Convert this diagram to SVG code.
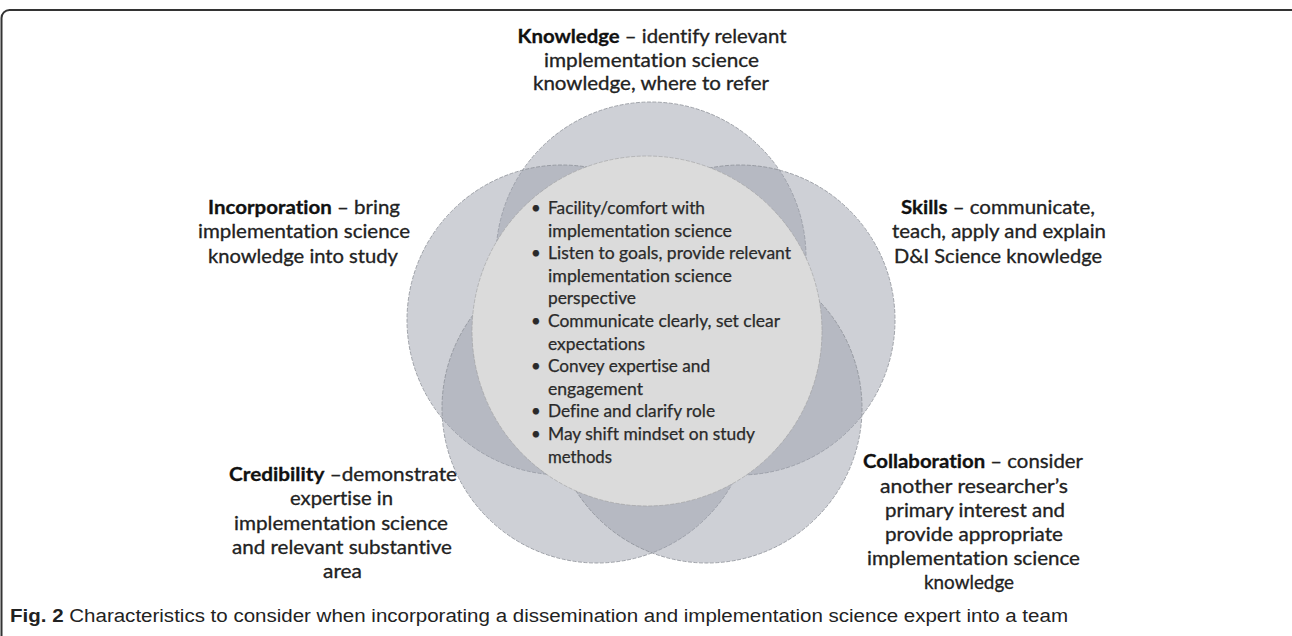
<svg xmlns="http://www.w3.org/2000/svg" width="1292" height="636" viewBox="0 0 1292 636">
<style>
.petal{fill:#9ea2ad;fill-opacity:0.5;stroke:#8c8f97;stroke-width:0.8;stroke-dasharray:4 1.5}
.core{fill:#dbdbdb;stroke:#a0a0a0;stroke-width:0.6;stroke-dasharray:4 1.5}
text{font-variant-ligatures:none}
.lbl{font-family:Lato,"Open Sans",sans-serif;font-size:18.5px;fill:#222;stroke:#222;stroke-width:0.3;text-anchor:middle}
.lbl .b{font-weight:bold;fill:#111;stroke:#111}
.bl{font-family:Lato,"Open Sans",sans-serif;font-size:16.8px;fill:#2a2a2a;stroke:#2a2a2a;stroke-width:0.25}
.cap{font-family:"Liberation Sans",Arial,sans-serif;font-size:18px;fill:#222}
</style>
<rect x="1.5" y="10" width="1300" height="640" rx="8" fill="#fff" stroke="#333" stroke-width="2"/>
<g id="connectors"></g>
<g id="petals">
<circle id="knowledge-petal" class="petal" cx="651" cy="257" r="155"/>
<circle id="incorporation-petal" class="petal" cx="562" cy="320" r="155"/>
<circle id="skills-petal" class="petal" cx="740" cy="320" r="155"/>
<circle id="credibility-petal" class="petal" cx="597" cy="408" r="155"/>
<circle id="collaboration-petal" class="petal" cx="707" cy="408" r="155"/>
</g>
<g id="core">
<circle class="core" cx="647" cy="331" r="175"/>
<g class="bl">
<text x="531" y="214">•</text>
<text x="548" y="214" textLength="157" lengthAdjust="spacingAndGlyphs">Facility/comfort with</text>
<text x="548" y="236.6" textLength="184" lengthAdjust="spacingAndGlyphs">implementation  science</text>
<text x="531" y="259.2">•</text>
<text x="548" y="259.2" textLength="243" lengthAdjust="spacingAndGlyphs">Listen to goals, provide relevant</text>
<text x="548" y="281.8" textLength="184" lengthAdjust="spacingAndGlyphs">implementation  science</text>
<text x="548" y="304.4" textLength="88" lengthAdjust="spacingAndGlyphs">perspective</text>
<text x="531" y="327">•</text>
<text x="548" y="327" textLength="232" lengthAdjust="spacingAndGlyphs">Communicate  clearly, set clear</text>
<text x="548" y="349.6" textLength="97" lengthAdjust="spacingAndGlyphs">expectations</text>
<text x="531" y="372.2">•</text>
<text x="548" y="372.2" textLength="162" lengthAdjust="spacingAndGlyphs">Convey expertise and</text>
<text x="548" y="394.8" textLength="95" lengthAdjust="spacingAndGlyphs">engagement</text>
<text x="531" y="417.4">•</text>
<text x="548" y="417.4" textLength="167" lengthAdjust="spacingAndGlyphs">Define and clarify role</text>
<text x="531" y="440">•</text>
<text x="548" y="440" textLength="207" lengthAdjust="spacingAndGlyphs">May shift mindset on  study</text>
<text x="548" y="462.6" textLength="64" lengthAdjust="spacingAndGlyphs">methods</text>
</g>
</g>
<g id="knowledge" class="lbl">
<text x="652" y="43" textLength="269" lengthAdjust="spacingAndGlyphs"><tspan class="b">Knowledge</tspan> – identify relevant</text>
<text x="651.5" y="66.5" textLength="215" lengthAdjust="spacingAndGlyphs">implementation science</text>
<text x="651" y="90" textLength="236" lengthAdjust="spacingAndGlyphs">knowledge, where to refer</text>
</g>
<g id="incorporation" class="lbl">
<text x="304" y="214" textLength="192" lengthAdjust="spacingAndGlyphs"><tspan class="b">Incorporation</tspan> – bring</text>
<text x="304" y="238" textLength="212" lengthAdjust="spacingAndGlyphs">implementation science</text>
<text x="303" y="262.5" textLength="190" lengthAdjust="spacingAndGlyphs">knowledge into study</text>
</g>
<g id="skills" class="lbl">
<text x="998" y="214" textLength="194" lengthAdjust="spacingAndGlyphs"><tspan class="b">Skills</tspan> – communicate,</text>
<text x="999" y="238" textLength="214" lengthAdjust="spacingAndGlyphs">teach, apply and explain</text>
<text x="998" y="262.5" textLength="208" lengthAdjust="spacingAndGlyphs">D&amp;I Science knowledge</text>
</g>
<g id="credibility" class="lbl">
<text x="343" y="481" textLength="228" lengthAdjust="spacingAndGlyphs"><tspan class="b">Credibility</tspan> –demonstrate</text>
<text x="341.5" y="505" textLength="103" lengthAdjust="spacingAndGlyphs">expertise in</text>
<text x="341" y="530" textLength="214" lengthAdjust="spacingAndGlyphs">implementation science</text>
<text x="342" y="554" textLength="220" lengthAdjust="spacingAndGlyphs">and relevant substantive</text>
<text x="342.5" y="578" textLength="39" lengthAdjust="spacingAndGlyphs">area</text>
</g>
<g id="collaboration" class="lbl">
<text x="973" y="468" textLength="220" lengthAdjust="spacingAndGlyphs"><tspan class="b">Collaboration</tspan> – consider</text>
<text x="974" y="493" textLength="188" lengthAdjust="spacingAndGlyphs">another researcher’s</text>
<text x="975" y="517" textLength="180" lengthAdjust="spacingAndGlyphs">primary interest and</text>
<text x="974" y="541" textLength="178" lengthAdjust="spacingAndGlyphs">provide appropriate</text>
<text x="973.5" y="565" textLength="213" lengthAdjust="spacingAndGlyphs">implementation science</text>
<text x="969" y="589" textLength="90" lengthAdjust="spacingAndGlyphs">knowledge</text>
</g>
<g id="caption">
<text class="cap" x="10" y="622" textLength="1058" lengthAdjust="spacingAndGlyphs"><tspan font-weight="bold">Fig. 2</tspan> Characteristics to consider when incorporating a dissemination and implementation science expert into a team</text>
</g>
</svg>
